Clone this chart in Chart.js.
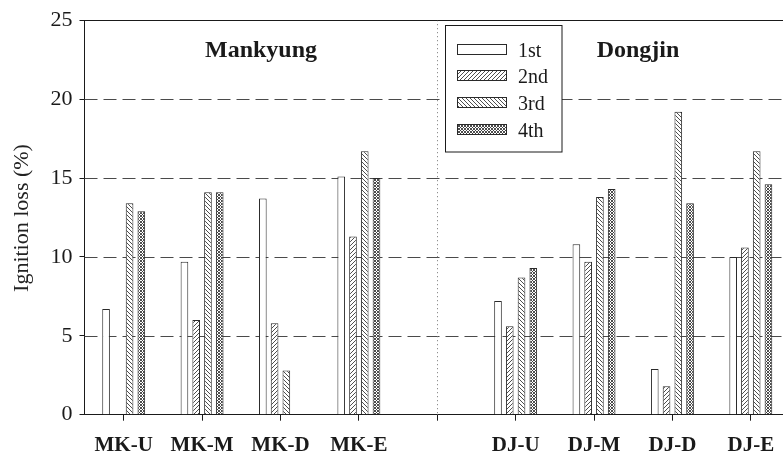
<!DOCTYPE html>
<html>
<head>
<meta charset="utf-8">
<script src="https://cdn.jsdelivr.net/npm/chart.js@4"></script>
<style>
  html, body { margin: 0; padding: 0; background: #fff; overflow: hidden; }
  #wrap { width: 792px; height: 452px; }
</style>
</head>
<body>
<div id="wrap"><canvas id="c" width="792" height="452"></canvas></div>
<script>
// Sampling sites (blank slot separates the two rivers)
const categories = ['MK-U', 'MK-M', 'MK-D', 'MK-E', '', 'DJ-U', 'DJ-M', 'DJ-D', 'DJ-E'];
// Ignition loss (%) per sampling round
const first  = [6.7, 9.7, 13.7, 15.1, null, 7.2, 10.8, 2.9, 10.0];
const second = [null, 6.0, 5.8, 11.3, null, 5.6, 9.7, 1.8, 10.6];
const third  = [13.4, 14.1, 2.8, 16.7, null, 8.7, 13.8, 19.2, 16.7];
const fourth = [12.9, 14.1, null, 15.0, null, 9.3, 14.3, 13.4, 14.6];
const seriesNames = ['1st', '2nd', '3rd', '4th'];
const yTicks = [0, 5, 10, 15, 20, 25];
const gridValues = [5, 10, 15, 20];
const riverNames = ['Mankyung', 'Dongjin'];
const yTitle = 'Ignition loss (%)';

const SERIF = "'Liberation Serif', 'Times New Roman', serif";
const INK = '#1a1a1a';

// Small repeating hatch tiles for the bar fills
function hatch(kind, step) {
  const c = document.createElement('canvas');
  c.width = step; c.height = step;
  const g = c.getContext('2d');
  g.fillStyle = '#fff';
  g.fillRect(0, 0, step, step);
  g.strokeStyle = '#3a3a3a';
  g.lineWidth = 0.9;
  g.beginPath();
  for (const k of [-step, 0, step]) {
    if (kind === '/' || kind === 'x') { g.moveTo(k, step); g.lineTo(k + step, 0); }
    if (kind === '\\' || kind === 'x') { g.moveTo(k, 0); g.lineTo(k + step, step); }
  }
  g.stroke();
  return g.createPattern(c, 'repeat');
}

const ctx0 = document.getElementById('c').getContext('2d');
const fills = ['#ffffff', hatch('/', 4), hatch('\\', 4), hatch('x', 3)];
const seriesData = [first, second, third, fourth];

const datasets = seriesData.map((d, i) => ({
  label: seriesNames[i],
  data: d,
  backgroundColor: fills[i],
  borderColor: '#2a2a2a',
  borderWidth: 1,
  borderSkipped: 'bottom',
  categoryPercentage: 0.6,
  barPercentage: 0.65
}));

// Frame, dashed grid, separator, river names, legend and axis title
const decor = {
  id: 'decor',
  beforeDatasetsDraw(chart) {
    const { ctx, chartArea: a, scales: { x, y } } = chart;
    ctx.save();
    ctx.strokeStyle = '#4a4a4a';
    ctx.lineWidth = 1;
    ctx.setLineDash([13, 6]);
    for (const v of gridValues) {
      const py = Math.round(y.getPixelForValue(v)) + 0.5;
      ctx.beginPath(); ctx.moveTo(a.left, py); ctx.lineTo(a.right, py); ctx.stroke();
    }
    // dotted separator between the two rivers
    ctx.strokeStyle = '#777';
    ctx.setLineDash([1, 3]);
    const sx = Math.round(x.getPixelForValue(4)) + 0.5;
    ctx.beginPath(); ctx.moveTo(sx, a.top); ctx.lineTo(sx, a.bottom); ctx.stroke();
    // top frame line
    ctx.setLineDash([]);
    ctx.strokeStyle = INK;
    const ty = Math.round(a.top) + 0.5;
    ctx.beginPath(); ctx.moveTo(a.left, ty); ctx.lineTo(a.right, ty); ctx.stroke();
    ctx.restore();
  },
  afterDatasetsDraw(chart) {
    const { ctx } = chart;
    ctx.save();
    ctx.fillStyle = INK;
    ctx.textAlign = 'center';
    ctx.textBaseline = 'alphabetic';
    ctx.font = 'bold 24px ' + SERIF;
    ctx.fillText(riverNames[0], 261, 57);
    ctx.fillText(riverNames[1], 638, 57);

    // legend box
    const bx = 445.5, by = 25.5, bw = 116.5, bh = 126.5;
    ctx.fillStyle = '#fff';
    ctx.fillRect(bx, by, bw, bh);
    ctx.strokeStyle = INK;
    ctx.lineWidth = 1;
    ctx.strokeRect(bx, by, bw, bh);
    ctx.font = '20px ' + SERIF;
    ctx.textAlign = 'left';
    seriesNames.forEach((name, i) => {
      const sy = 43.5 + i * 26.7;
      ctx.fillStyle = fills[i];
      ctx.fillRect(457, Math.round(sy), 50, 11);
      ctx.strokeStyle = '#2a2a2a';
      ctx.strokeRect(457.5, Math.round(sy) + 0.5, 49, 10);
      ctx.fillStyle = INK;
      ctx.fillText(name, 518, Math.round(sy) + 13);
    });

    // y axis title
    ctx.translate(22, 218);
    ctx.rotate(-Math.PI / 2);
    ctx.textAlign = 'center';
    ctx.textBaseline = 'middle';
    ctx.font = '22px ' + SERIF;
    ctx.fillStyle = '#222';
    ctx.fillText(yTitle, 0, 0);
    ctx.restore();
  }
};

new Chart(ctx0, {
  type: 'bar',
  data: { labels: categories, datasets },
  options: {
    responsive: false,
    animation: false,
    layout: { padding: { top: 18, right: 2, left: 0, bottom: 0 } },
    plugins: { legend: { display: false }, tooltip: { enabled: false } },
    scales: {
      x: {
        afterFit(s) { s.height = 37.3; },
        grid: { offset: false, drawOnChartArea: false, tickLength: 6, color: INK, lineWidth: 1 },
        border: { color: INK, width: 1 },
        ticks: { color: INK, padding: 12, font: { family: SERIF, size: 21, weight: 'bold' }, maxRotation: 0, autoSkip: false }
      },
      y: {
        min: 0, max: 25,
        afterFit(s) { s.width = 84.5; },
        afterBuildTicks(s) { s.ticks = yTicks.map(v => ({ value: v })); },
        grid: { drawOnChartArea: false, tickLength: 5, color: INK, lineWidth: 1 },
        border: { color: INK, width: 1 },
        ticks: { color: INK, padding: 7, font: { family: SERIF, size: 22 } }
      }
    }
  },
  plugins: [decor]
});
</script>
</body>
</html>
